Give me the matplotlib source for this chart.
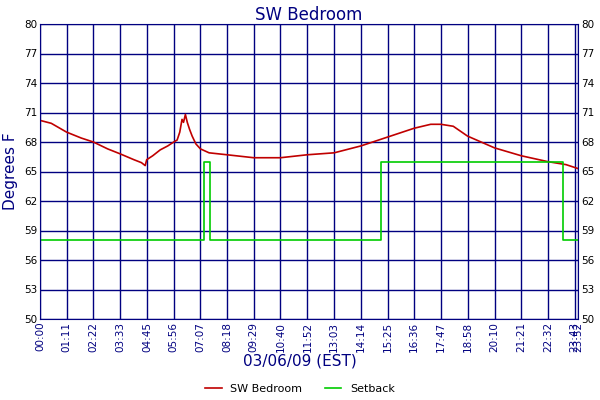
import matplotlib
matplotlib.use('Agg')
import matplotlib.pyplot as plt

# minutes since midnight, temperature F
temp_min = [0, 30, 71, 110, 142, 180, 213, 250, 270, 280, 284, 300, 320, 340, 356,
            365, 372, 378, 382, 387, 392, 398, 405, 415, 427, 450, 498, 569, 640,
            711, 783, 854, 925, 996, 1040, 1067, 1100, 1138, 1210, 1281, 1352, 1400, 1432]
temp_val = [70.2, 69.9, 69.0, 68.4, 68.0, 67.3, 66.8, 66.2, 65.9, 65.6, 66.2, 66.6,
            67.2, 67.6, 68.0, 68.2, 69.0, 70.3, 70.0, 70.8, 70.0, 69.3, 68.6, 67.8,
            67.3, 66.9, 66.7, 66.4, 66.4, 66.7, 66.9, 67.6, 68.5, 69.4, 69.8, 69.8,
            69.6, 68.6, 67.4, 66.6, 66.0, 65.7, 65.3]

set_min = [0, 437, 437, 453, 453, 907, 907, 1392, 1392, 1432]
set_val = [58, 58, 66, 66, 58, 58, 66, 66, 58, 58]

ticks = [round(i * 1423 / 20) for i in range(21)] + [1432]
tick_labels = ['%02d:%02d' % (t // 60, t % 60) for t in ticks]
yticks = list(range(50, 81, 3))

navy = '#000080'
fig = plt.figure(figsize=(6, 4), dpi=100)
ax = fig.add_axes([40/600, 81/400, 538/600, 295/400])
ax.plot(temp_min, temp_val, color='#c00000', lw=1.2, label='SW Bedroom')
ax.plot(set_min, set_val, color='#00cc00', lw=1.2, label='Setback')
ax.set_xlim(0, 1432)
ax.set_ylim(50, 80)
ax.set_xticks(ticks)
ax.set_xticklabels(tick_labels, rotation=90, fontsize=7.5, color=navy)
ax.set_yticks(yticks)
ax.set_yticklabels([str(v) for v in yticks], fontsize=7.5, color='#000000')
ax.tick_params(axis='y', which='both', right=True, labelright=True, length=0, pad=2)
ax.tick_params(axis='x', length=0, pad=2)
ax.grid(True, color=navy, lw=1)
for s in ax.spines.values():
    s.set_color(navy)
ax.set_title('SW Bedroom', color=navy, fontsize=12, pad=3)
ax.set_ylabel('Degrees F', color=navy, fontsize=11, labelpad=4)
fig.text(0.5, 0.085, '03/06/09 (EST)', color=navy, fontsize=11, ha='center')
fig.legend(loc='lower center', ncol=2, frameon=False, fontsize=8,
           bbox_to_anchor=(0.5, -0.01), handlelength=1.5)
fig.savefig('out.png', dpi=100, facecolor='white')
